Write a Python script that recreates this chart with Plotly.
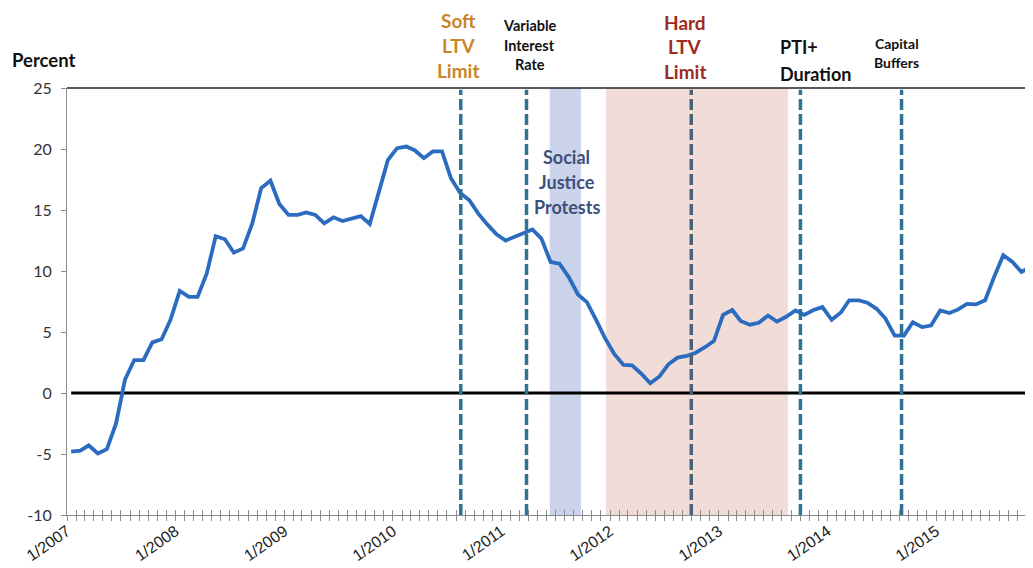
import pandas as pd
import plotly.graph_objects as go

# ---------------- data ----------------
values = [
    -4.8, -4.73, -4.3, -4.95, -4.6, -2.5, 1.1, 2.7, 2.7, 4.15, 4.4, 6.0,
    8.37, 7.88, 7.88, 9.8, 12.86, 12.6, 11.5, 11.85, 13.9, 16.8, 17.4, 15.5,
    14.6, 14.6, 14.8, 14.6, 13.9, 14.4, 14.1, 14.3, 14.5, 13.85, 16.4, 19.1,
    20.07, 20.2, 19.9, 19.25, 19.8, 19.8, 17.6, 16.4, 15.8, 14.7, 13.8, 13.0,
    12.5, 12.8, 13.07, 13.4, 12.66, 10.74, 10.6, 9.5, 8.08, 7.45, 6.0, 4.5,
    3.2, 2.3, 2.26, 1.58, 0.8, 1.36, 2.35, 2.9, 3.05, 3.3, 3.75, 4.25,
    6.4, 6.8, 5.9, 5.6, 5.75, 6.35, 5.85, 6.25, 6.77, 6.4, 6.8, 7.04,
    6.0, 6.6, 7.6, 7.6, 7.4, 6.9, 6.1, 4.7, 4.7, 5.8, 5.4, 5.53,
    6.77, 6.55, 6.83, 7.3, 7.26, 7.6, 9.5, 11.3, 10.74, 9.92, 10.33,
]
start_month = "2007-01-01"
months = pd.date_range(start_month, periods=len(values), freq="MS") + pd.Timedelta(days=14)
zero_line = [0.0] * len(values)

band_starts = ["2011-06-12", "2011-12-18"]
band_ends = ["2011-09-25", "2013-08-21"]

event_dates = ["2010-08-17", "2011-03-26", "2012-09-30", "2013-10-02", "2014-09-07"]
event_labels = [
    ["Soft", "LTV", "Limit"],
    ["Variable", "Interest", "Rate"],
    ["Hard", "LTV", "Limit"],
    ["PTI+", "Duration"],
    ["Capital", "Buffers"],
]
protest_label = ["Social", "Justice", "Protests"]
protest_date = "2011-08-01"

y_title = "Percent"
x_range = ["2007-01-01", "2015-11-23"]
y_range = [-10, 25]
y_ticks = [-10, -5, 0, 5, 10, 15, 20, 25]
y_ticktext = [str(v) for v in y_ticks]

# ---------------- styling ----------------
OFF = 8                     # page body margin of the html page
W, H = 1033 - OFF, 568 - OFF
ML, MR, MT = 67 - OFF, 0, 88 - OFF
PLOT_BOTTOM = 515 - OFF
MB = H - PLOT_BOTTOM
PLOT_H = H - MT - MB

def paper_y(py):            # py: pixel row in the reference picture
    return (PLOT_BOTTOM - (py - OFF)) / PLOT_H

LINE_BLUE = "#2B6CC0"
DASH_COL = ["#2F7292", "#2F7292", "#4A6279", "#2F7292", "#2F7292"]
BAND_COL = ["#CBD4EB", "#F2DCD8"]
CAL = "Lato, 'Open Sans', sans-serif"
AXIS_GREY = "#8C8C8C"

label_styles = [
    dict(color="#C8862C", size=19, ys=[20, 46, 71], xshift=-2, align="center"),
    dict(color="#111111", size=14.5, ys=[25, 45, 65], xshift=3, align="center"),
    dict(color="#9E2B22", size=19, ys=[22, 47, 72], xshift=-6, align="center"),
    dict(color="#111111", size=18, ys=[47, 74], xshift=-22, align="left"),
    dict(color="#111111", size=14, ys=[43, 63], xshift=-5, align="center"),
]

fig = go.Figure()

fig.add_trace(go.Scatter(
    x=months, y=zero_line, mode="lines",
    line=dict(color="#000000", width=3), hoverinfo="skip", showlegend=False,
))
fig.add_trace(go.Scatter(
    x=months, y=values, mode="lines",
    line=dict(color=LINE_BLUE, width=3.8), showlegend=False,
))
# dummy trace for the overlay axis (crossing ticks)
fig.add_trace(go.Scatter(
    x=[months[0]], y=[None], xaxis="x2", mode="lines",
    showlegend=False, hoverinfo="skip",
))

shapes = []
for s, e, c in zip(band_starts, band_ends, BAND_COL):
    shapes.append(dict(type="rect", xref="x", yref="y", x0=s, x1=e,
                       y0=y_range[0], y1=y_range[1], fillcolor=c,
                       line=dict(width=0), layer="below"))
for d, c in zip(event_dates, DASH_COL):
    shapes.append(dict(type="line", xref="x", yref="y", x0=d, x1=d,
                       y0=y_range[0], y1=y_range[1] - 0.15,
                       line=dict(color=c, width=3.5, dash="11px,4px"),
                       layer="above"))
# top frame line
shapes.append(dict(type="line", xref="paper", yref="paper", x0=0, x1=1,
                   y0=1, y1=1, line=dict(color="#222222", width=1.5)))

annotations = []
for d, lines, st in zip(event_dates, event_labels, label_styles):
    for txt, py in zip(lines, st["ys"]):
        annotations.append(dict(
            x=d, y=paper_y(py), xref="x", yref="paper",
            text=f"<b>{txt}</b>", showarrow=False,
            xanchor="left" if st["align"] == "left" else "center",
            yanchor="middle", xshift=st["xshift"],
            font=dict(family=CAL, size=st["size"], color=st["color"]),
        ))
for txt, py in zip(protest_label, [157, 182, 207]):
    annotations.append(dict(
        x=protest_date, y=paper_y(py), xref="x", yref="paper",
        text=f"<b>{txt}</b>", showarrow=False, xanchor="center",
        yanchor="middle", xshift=2,
        font=dict(family=CAL, size=18, color="#3E4F7B"),
    ))
annotations.append(dict(
    x=-57 / (W - ML - MR), y=paper_y(60), xref="paper", yref="paper",
    text=f"<b>{y_title}</b>", showarrow=False, xanchor="left", yanchor="middle",
    font=dict(family=CAL, size=18.5, color="#111111"),
))

fig.update_layout(
    width=W, height=H,
    margin=dict(l=ML, r=MR, t=MT, b=MB, pad=0),
    paper_bgcolor="#FFFFFF", plot_bgcolor="#FFFFFF",
    showlegend=False,
    shapes=shapes, annotations=annotations,
    xaxis=dict(
        type="date", range=x_range, automargin=False,
        showgrid=False, zeroline=False,
        showline=True, linecolor=AXIS_GREY, linewidth=1,
        ticks="outside", ticklen=5, tickcolor=AXIS_GREY,
        tick0="2007-01-01", dtick="M12", tickformat="%-m/%Y",
        tickangle=-35, ticklabelstandoff=-5,
        tickfont=dict(family="Liberation Sans, Arial, sans-serif", size=16, color="#222222"),
        minor=dict(dtick="M1", tick0="2007-01-01", ticks="outside",
                   ticklen=5, tickcolor=AXIS_GREY, showgrid=False),
    ),
    xaxis2=dict(
        type="date", range=x_range, overlaying="x", anchor="y", side="bottom",
        automargin=False, showgrid=False, zeroline=False, showline=False,
        ticks="inside", ticklen=5, tickcolor=AXIS_GREY,
        tick0="2007-01-01", dtick="M1", showticklabels=False,
    ),
    yaxis=dict(
        range=y_range, tickvals=y_ticks, ticktext=y_ticktext, automargin=False,
        showgrid=False, zeroline=False,
        showline=True, linecolor=AXIS_GREY, linewidth=1,
        ticks="outside", ticklen=5, tickcolor=AXIS_GREY, ticklabelstandoff=6,
        tickfont=dict(family=CAL, size=16, color="#333333"),
    ),
)

fig.write_html("out.html")
